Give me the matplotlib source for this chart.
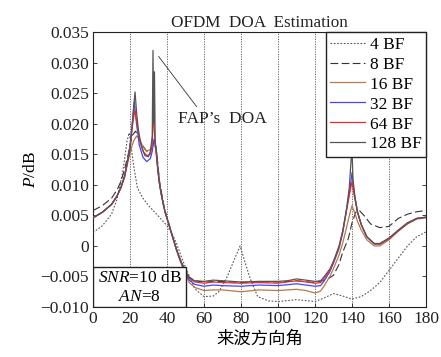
import matplotlib
matplotlib.use("Agg")
import matplotlib.pyplot as plt
from matplotlib.patches import Rectangle
from matplotlib.ticker import FixedLocator, FuncFormatter

plt.rcParams["font.family"] = ["Liberation Serif", "Noto Sans CJK SC", "DejaVu Sans"]
plt.rcParams["mathtext.fontset"] = "custom"
plt.rcParams["mathtext.rm"] = "Liberation Serif"
plt.rcParams["mathtext.it"] = "Liberation Serif:italic"
plt.rcParams["axes.unicode_minus"] = True

# ---- data (angle in degrees, P in dB) ----
x_4bf = [0, 5, 10, 13, 16, 18.4, 19.5, 20.5, 22, 24, 27, 30, 35, 40, 43, 45, 48, 50, 55, 60,
         65, 68, 72, 76, 79.5, 82, 85, 89, 95, 100, 110, 120, 125, 130, 135, 140, 145, 150,
         155, 160, 165, 170, 175, 180]
p_4bf = [0.0022, 0.0033, 0.0052, 0.0077, 0.0120, 0.0172, 0.0185, 0.0165, 0.0130, 0.0095,
         0.0078, 0.0066, 0.0050, 0.0033, 0.0018, 0.0005, -0.0020, -0.0035, -0.0070, -0.0083,
         -0.0082, -0.0075, -0.0054, -0.0025, 0.0000, -0.0025, -0.0054, -0.0083, -0.0090,
         -0.0091, -0.0088, -0.0091, -0.0085, -0.0078, -0.0082, -0.0087, -0.0083, -0.0073,
         -0.0060, -0.0040, -0.0020, 0.0000, 0.0015, 0.0023]

x_8bf = [0, 5, 10, 13, 15, 17, 19, 21, 23, 26, 29, 31, 33, 34.5, 36, 38, 40, 42, 45, 47, 50,
         52, 55, 60, 70, 80, 90, 100, 110, 120, 125, 128, 130, 133, 135, 138, 140, 142, 144,
         147, 150, 155, 160, 165, 170, 175, 180]
p_8bf = [0.0058, 0.0066, 0.0078, 0.0092, 0.0105, 0.0125, 0.0150, 0.0180, 0.0188, 0.0168,
         0.0155, 0.0158, 0.0170, 0.0150, 0.0105, 0.0070, 0.0046, 0.0026, -0.0004, -0.0021,
         -0.0041, -0.0051, -0.0057, -0.0059, -0.0058, -0.0060, -0.0059, -0.0059, -0.0057,
         -0.0060, -0.0056, -0.0052, -0.0048, -0.0030, -0.0010, 0.0012, 0.0038, 0.0055,
         0.0058, 0.0048, 0.0036, 0.0030, 0.0032, 0.0045, 0.0052, 0.0056, 0.0058]

x_16bf = [0, 5, 10, 13, 15, 17, 19, 20, 21, 22, 23.5, 25, 27, 29, 31, 32, 33, 34, 35, 36, 37,
          38, 39, 40, 42, 45, 47, 50, 52, 55, 60, 65, 70, 80, 90, 100, 110, 115, 120, 123,
          125, 128, 130, 133, 135, 137, 139, 140, 141, 143, 145, 148, 152, 155, 160, 165, 170,
          175, 180]
p_16bf = [0.0047, 0.0055, 0.0068, 0.0082, 0.0095, 0.0113, 0.0140, 0.0152, 0.0163, 0.0172,
          0.0180, 0.0175, 0.0162, 0.0155, 0.0158, 0.0165, 0.0172, 0.0160, 0.0125, 0.0100,
          0.0083, 0.0068, 0.0055, 0.0045, 0.0025, -0.0006, -0.0024, -0.0047, -0.0060,
          -0.0068, -0.0073, -0.0072, -0.0072, -0.0075, -0.0072, -0.0073, -0.0071, -0.0073,
          -0.0077, -0.0074, -0.0065, -0.0050, -0.0037, -0.0015, 0.0005, 0.0030, 0.0055,
          0.0066, 0.0058, 0.0040, 0.0026, 0.0010, 0.0000, 0.0000, 0.0010, 0.0024, 0.0036,
          0.0044, 0.0046]

x_32bf = [0, 5, 10, 13, 15, 17, 19, 20, 21, 22.3, 23.5, 25, 27, 29, 31, 32, 33, 34, 35, 36,
          37, 38, 39, 40, 42, 45, 47, 50, 52, 55, 60, 65, 70, 80, 90, 100, 110, 115, 120,
          123, 125, 128, 130, 133, 135, 137, 139, 140, 141, 143, 145, 148, 152, 155, 160, 165,
          170, 175, 180]
p_32bf = [0.0046, 0.0055, 0.0068, 0.0082, 0.0095, 0.0113, 0.0145, 0.0165, 0.0195, 0.0236,
          0.0200, 0.0165, 0.0145, 0.0138, 0.0143, 0.0155, 0.0175, 0.0160, 0.0128, 0.0102,
          0.0084, 0.0068, 0.0055, 0.0045, 0.0025, -0.0005, -0.0022, -0.0045, -0.0056,
          -0.0063, -0.0066, -0.0064, -0.0065, -0.0066, -0.0064, -0.0065, -0.0062, -0.0064,
          -0.0066, -0.0065, -0.0057, -0.0042, -0.0028, -0.0004, 0.0022, 0.0058, 0.0095,
          0.0120, 0.0090, 0.0055, 0.0035, 0.0015, 0.0003, 0.0003, 0.0012, 0.0025, 0.0037,
          0.0045, 0.0047]

x_64bf = [0, 5, 10, 13, 15, 17, 19, 20, 21, 22.5, 23.5, 25, 27, 29, 31, 32, 32.6, 33.2, 34,
          35, 36, 37, 38, 39, 40, 42, 45, 47, 50, 52, 55, 60, 65, 70, 80, 90, 100, 110, 115,
          120, 123, 125, 128, 130, 133, 135, 137, 139, 140, 141, 143, 145, 148, 152, 155, 160,
          165, 170, 175, 180]
p_64bf = [0.0046, 0.0055, 0.0068, 0.0082, 0.0095, 0.0112, 0.0142, 0.0160, 0.0190, 0.0222,
          0.0205, 0.0175, 0.0155, 0.0148, 0.0150, 0.0165, 0.0222, 0.0185, 0.0155, 0.0125,
          0.0100, 0.0083, 0.0068, 0.0055, 0.0045, 0.0025, -0.0005, -0.0022, -0.0043, -0.0053,
          -0.0059, -0.0061, -0.0059, -0.0060, -0.0061, -0.0060, -0.0061, -0.0057, -0.0059,
          -0.0061, -0.0060, -0.0053, -0.0040, -0.0026, -0.0002, 0.0024, 0.0058, 0.0090,
          0.0105, 0.0085, 0.0055, 0.0035, 0.0015, 0.0004, 0.0003, 0.0012, 0.0025, 0.0037,
          0.0045, 0.0047]

x_128bf = [0, 5, 10, 13, 15, 17, 19, 20, 21, 22, 22.7, 23.5, 24.5, 26, 28, 30, 31, 32, 32.4,
           32.8, 33.2, 33.6, 34.5, 35, 36, 37, 38, 39, 40, 42, 45, 47, 50, 52, 55, 60, 65, 70,
           80, 90, 100, 105, 110, 115, 120, 123, 125, 128, 130, 133, 135, 137, 138.5, 139.5,
           140, 140.5, 141.5, 143, 145, 148, 152, 155, 160, 165, 170, 175, 180]
p_128bf = [0.0046, 0.0055, 0.0068, 0.0082, 0.0095, 0.0115, 0.0145, 0.0160, 0.0190, 0.0230,
           0.0252, 0.0220, 0.0190, 0.0165, 0.0148, 0.0146, 0.0155, 0.0180, 0.0320, 0.0200,
           0.0285, 0.0170, 0.0150, 0.0125, 0.0100, 0.0083, 0.0068, 0.0055, 0.0045, 0.0025,
           -0.0005, -0.0022, -0.0042, -0.0052, -0.0057, -0.0058, -0.0056, -0.0057, -0.0059,
           -0.0058, -0.0058, -0.0057, -0.0054, -0.0056, -0.0058, -0.0057, -0.0050, -0.0038,
           -0.0025, 0.0000, 0.0025, 0.0060, 0.0095, 0.0140, 0.0160, 0.0110, 0.0082, 0.0055,
           0.0035, 0.0015, 0.0004, 0.0004, 0.0013, 0.0026, 0.0038, 0.0045, 0.0047]

x_ticks = [0, 20, 40, 60, 80, 100, 120, 140, 160, 180]
y_ticks = [-0.010, -0.005, 0, 0.005, 0.010, 0.015, 0.020, 0.025, 0.030, 0.035]

# leader line of the "FAP's DOA" note: spike top -> near the text
fap_line_x = [35.5, 56.0]
fap_line_p = [0.0310, 0.0228]


def fmt_y(v, _pos):
    if abs(v) < 1e-12:
        return "0"
    return f"{v:.3f}".replace("-", "\u2212")


fig = plt.figure(figsize=(4.41, 3.57), dpi=100)
ax = fig.add_axes([0.211, 0.140, 0.755, 0.770])

ax.plot(x_4bf, p_4bf, color="#555555", lw=0.8, ls=(0, (1.5, 1.5)), label="4 BF", zorder=3)
ax.plot(x_8bf, p_8bf, color="#333333", lw=0.8, ls=(0, (7, 3)), label="8 BF", zorder=3)
ax.plot(x_16bf, p_16bf, color="#b87848", lw=0.9, label="16 BF", zorder=4)
ax.plot(x_32bf, p_32bf, color="#4444ff", lw=0.9, label="32 BF", zorder=5)
ax.plot(x_64bf, p_64bf, color="#ee2a2a", lw=0.9, label="64 BF", zorder=6)
ax.plot(x_128bf, p_128bf, color="#555555", lw=0.9, label="128 BF", zorder=7)

ax.set_xlim(0, 180)
ax.set_ylim(-0.010, 0.035)
ax.xaxis.set_major_locator(FixedLocator(x_ticks))
ax.yaxis.set_major_locator(FixedLocator(y_ticks))
ax.yaxis.set_major_formatter(FuncFormatter(fmt_y))
ax.tick_params(direction="in", length=3, width=0.6, labelsize=12.5, top=False, right=True,
               pad=3, colors="#222222")
for sp in ax.spines.values():
    sp.set_linewidth(0.8)
    sp.set_color("#222222")

for xv in x_ticks[1:-1]:
    ax.axvline(xv, color="#555555", lw=0.6, ls=(0, (1.5, 1.5)), zorder=1)

ax.set_title("OFDM  DOA  Estimation", fontsize=12.3, pad=4, color="#222222")
ax.set_xlabel("来波方向角", fontsize=12.5, family=["Noto Sans CJK SC"], labelpad=2)
ax.set_ylabel("$P$/dB", fontsize=12.5, labelpad=1)

leg = ax.legend(loc="upper right", borderaxespad=0, fancybox=False, framealpha=1,
                edgecolor="#222222", fontsize=12.5, handlelength=2.0, handletextpad=0.3,
                labelspacing=0.22, borderpad=0.25)
leg.get_frame().set_linewidth(1.0)
leg.set_zorder(10)

ax.plot(fap_line_x, fap_line_p, color="#333333", lw=0.6, zorder=9)
ax.text(46, 0.0207, "FAP\u2019s  DOA", fontsize=12.5, ha="left", va="center",
        color="#222222", zorder=9)

box = Rectangle((0, 0), 0.28, 0.145, transform=ax.transAxes, facecolor="white",
                edgecolor="#222222", lw=1.0, zorder=10)
ax.add_patch(box)
ax.text(0.14, 0.105, "$\\mathit{SNR}$=10 dB", transform=ax.transAxes, ha="center",
        va="center", fontsize=12.5, zorder=11)
ax.text(0.14, 0.038, "$\\mathit{AN}$=8", transform=ax.transAxes, ha="center",
        va="center", fontsize=12.5, zorder=11)

fig.savefig("out.png", dpi=100)
